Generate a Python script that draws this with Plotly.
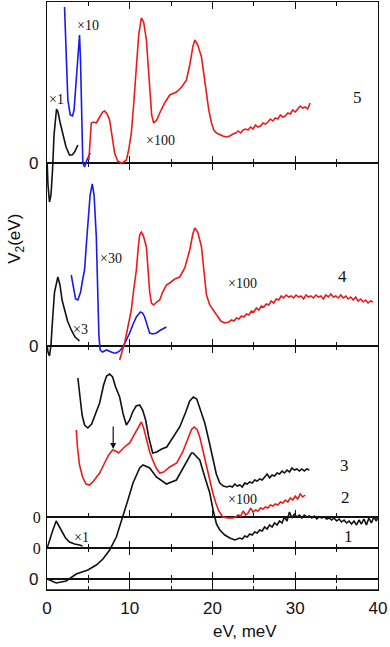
import plotly.graph_objects as go

# energy in meV, V2 in arbitrary units measured from each curve's own zero line

# curve 5
b5_x = [0.02, 0.12, 0.3, 0.48, 0.67, 0.85, 1.15, 1.33, 1.57, 1.91, 2.3, 2.72, 3.03, 3.33, 3.73]
b5_v = [0, -22, -39, -32, -7, 28, 54, 51, 41, 30, 16, 8, 8, 11, 18]
u5_x = [2.12, 2.24, 2.32, 2.52, 2.81, 3.09, 3.27, 3.54, 3.75, 3.93, 4.05, 4.14, 4.24, 4.33, 4.54, 4.82, 5.23]
u5_v = [156, 123, 96, 63, 48, 47, 53, 80, 108, 128, 103, 63, 28, 0, -4, 3, 10]
r5_x = [5.06, 5.21, 5.35, 5.63, 5.96, 6.36, 6.72, 6.96, 7.26, 7.57, 7.87, 8.17, 8.54, 8.98, 9.26,
        9.59, 9.87, 10.19, 10.47, 10.8, 11.08, 11.4, 11.68, 12.01, 12.23, 12.41, 12.65, 12.89, 13.26,
        13.62, 14.22, 14.83, 15.64, 16.28, 16.85, 17.25, 17.62, 17.86, 18.22, 18.67, 18.95, 19.27,
        19.55, 19.88, 20.16, 20.48, 20.88, 21.25, 21.69, 22.09, 22.46,
        22.8, 23.1, 23.4, 23.7, 24.0, 24.3, 24.6, 24.9, 25.2, 25.5, 25.8, 26.1, 26.4, 26.7, 27.0,
        27.3, 27.6, 27.9, 28.2, 28.5, 28.8, 29.1, 29.4, 29.7, 30.0, 30.3, 30.6, 30.9, 31.2, 31.5, 31.8]
r5_v = [3, 23, 40, 41, 40, 46, 51, 52, 49, 43, 28, 10, 2, 0, 1,
        3, 13, 30, 58, 96, 128, 145, 141, 123, 93, 70, 48, 40, 43,
        50, 60, 68, 71, 76, 83, 98, 116, 123, 118, 106, 88, 70,
        53, 40, 33, 30, 28, 27, 26, 27, 29,
        30, 32, 30, 33, 34, 33, 36, 34, 38, 36, 37, 40, 39, 41, 44,
        42, 45, 44, 48, 46, 47, 50, 49, 53, 51, 54, 57, 55, 56, 54, 60]

# curve 4
b4_x = [0.02, 0.12, 0.3, 0.48, 0.67, 0.91, 1.31, 1.57, 1.82, 2.12, 2.48, 2.93, 3.39, 3.93]
b4_v = [0, -6, -10, 1, 26, 54, 69, 61, 46, 36, 25, 16, 9, 5]
u4_x = [2.93, 3.21, 3.45, 3.73, 4.06, 4.3, 4.54, 4.75, 4.94, 5.21, 5.47, 5.69, 5.96, 6.05, 6.15,
        6.27, 6.42, 6.72, 7.17, 7.45, 7.77, 8.05, 8.38, 8.78, 9.18, 9.62, 9.99, 10.41, 10.8,
        11.28, 11.56, 11.8, 12.11, 12.41, 12.77, 13.22, 13.74, 14.43]
u4_v = [71, 56, 47, 46, 54, 66, 76, 101, 126, 151, 162, 151, 109, 76, 43,
        11, -4, -6, -4, -5, -6, -7, -7, -5, -1, 6, 13, 22, 29,
        34, 33, 29, 20, 13, 12, 13, 16, 19]
r4_x = [8.78, 9.08, 9.38, 9.75, 10.19, 10.47, 10.8, 11.02, 11.2, 11.4, 11.62, 12.01, 12.23, 12.41,
        12.62, 12.89, 13.26, 13.62, 13.98, 14.43, 14.83, 15.44, 16.04, 16.65, 17.25, 17.62, 17.86,
        18.22, 18.67, 18.95, 19.27, 19.67, 20.07, 20.52, 21.0, 21.49, 21.97,
        22.3, 22.6, 22.9, 23.2, 23.5, 23.8, 24.1, 24.4, 24.7, 25.0, 25.3, 25.6, 25.9, 26.2, 26.5,
        26.8, 27.1, 27.4, 27.7, 28.0, 28.3, 28.6, 28.9, 29.2, 29.5, 29.8, 30.1, 30.4, 30.7, 31.0,
        31.3, 31.6, 31.9, 32.2, 32.5, 32.8, 33.1, 33.4, 33.7, 34.0, 34.3, 34.6, 34.9, 35.2, 35.5,
        35.8, 36.1, 36.4, 36.7, 37.0, 37.3, 37.6, 37.9, 38.2, 38.5, 38.8, 39.1, 39.4]
r4_v = [-14, -6, 3, 18, 36, 56, 76, 98, 111, 114, 111, 99, 76, 54,
        43, 41, 44, 46, 54, 61, 63, 67, 69, 78, 96, 112, 118,
        114, 99, 76, 51, 41, 36, 30, 25, 23, 24,
        26, 25, 28, 27, 30, 29, 32, 31, 35, 34, 38, 36, 40, 39, 42,
        41, 45, 43, 47, 46, 50, 48, 51, 49, 50, 48, 51, 49, 50, 47,
        51, 49, 50, 48, 51, 49, 50, 47, 51, 49, 52, 49, 50, 48, 51,
        48, 50, 47, 49, 46, 49, 45, 47, 44, 46, 43, 45, 44]

# curve 3
c3_x = [3.73, 3.93, 4.24, 4.54, 4.94, 5.39, 5.87, 6.36, 6.84, 7.2, 7.57, 7.93, 8.29, 8.78, 9.2,
        9.59, 9.99, 10.35, 10.77, 11.2, 11.56, 11.92, 12.29, 12.77, 13.26, 13.86, 14.47, 15.19,
        16.04, 16.77, 17.25, 17.68, 18.1, 18.46, 19.07, 19.55, 20.04, 20.46, 20.88, 21.31, 21.73,
        22.1, 22.4, 22.7, 23.0, 23.3, 23.6, 23.9, 24.2, 24.5, 24.8, 25.1, 25.4, 25.7, 26.0, 26.3,
        26.6, 26.9, 27.2, 27.5, 27.8, 28.1, 28.4, 28.7, 29.0, 29.3, 29.6, 29.9, 30.2, 30.5, 30.8,
        31.1, 31.4, 31.7]
c3_v = [139, 122, 102, 92, 89, 93, 104, 114, 132, 141, 143, 140, 130, 120, 103,
        92, 97, 105, 111, 112, 107, 97, 80, 64, 65, 68, 70, 79,
        90, 105, 116, 120, 118, 109, 94, 77, 57, 43, 34, 31, 30,
        31, 30, 33, 31, 32, 30, 34, 33, 35, 34, 37, 36, 38, 37, 40,
        43, 39, 42, 41, 44, 43, 46, 44, 47, 45, 49, 47, 48, 46, 48,
        46, 48, 47]

# curve 2
c2_x = [3.54, 3.69, 3.93, 4.3, 4.72, 5.15, 5.63, 6.36, 6.96, 7.45, 7.93, 8.29, 8.66, 9.02, 9.5,
        9.99, 10.47, 11.02, 11.4, 11.68, 12.05, 12.41, 12.77, 13.2, 13.62, 14.1, 14.83, 15.68,
        16.4, 17.01, 17.49, 17.8, 18.16, 18.46, 18.89, 19.31, 19.67, 20.04, 20.4, 20.76, 21.25,
        21.85, 22.46, 22.8, 23.1, 23.4, 23.7, 24.0, 24.3, 24.6, 24.9, 25.2, 25.5, 25.8, 26.1,
        26.4, 26.7, 27.0, 27.3, 27.6, 27.9, 28.2, 28.5, 28.8, 29.1, 29.4, 29.7, 30.0, 30.3, 30.6,
        30.9, 31.2]
c2_v = [87, 69, 52, 40, 33, 32, 36, 44, 54, 62, 67, 66, 64, 67, 71,
        74, 81, 90, 95, 89, 77, 65, 57, 49, 44, 45, 50, 54,
        65, 79, 88, 90, 87, 80, 65, 50, 36, 24, 14, 6, 0,
        -1, -1, 0, 2, 1, 6, 2, 4, 9, 5, 7, 6, 9, 8,
        10, 9, 12, 11, 13, 12, 15, 14, 17, 15, 19, 17, 21, 18, 23,
        20, 22]

# curve 1, low energy part (x1) and main part
c1s_x = [0.02, 0.3, 0.67, 1.11, 1.39, 1.76, 2.24, 2.72, 3.33, 3.93, 4.3]
c1s_v = [0, 8, 17, 27, 23, 17, 10, 6, 4, 3, 2]
c1_x = [0.02, 1.11, 2.32, 3.54, 4.94, 5.96, 6.76, 7.57, 8.38, 9.18, 9.78, 10.39, 11.2, 11.6,
        12.41, 13.22, 14.43, 15.64, 16.85, 17.46, 17.65, 18.46, 19.07, 19.67, 20.07, 20.48, 20.88,
        21.49, 22.09, 22.7, 23.3, 23.6, 23.9, 24.2, 24.5, 24.8, 25.1, 25.4, 25.7, 26.0, 26.3, 26.6,
        26.9, 27.2, 27.5, 27.8, 28.1, 28.4, 28.7, 29.0, 29.3, 29.6, 29.9, 30.2, 30.5, 30.8, 31.1,
        31.4, 31.7, 32.0, 32.3, 32.6, 32.9, 33.2, 33.5, 33.8, 34.1, 34.4, 34.7, 35.0, 35.3, 35.6,
        35.9, 36.2, 36.5, 36.8, 37.1, 37.4, 37.7, 38.0, 38.3, 38.6, 38.9, 39.2, 39.5, 39.8, 40.0]
c1_v = [0, -4, -2, 5, 9, 14, 20, 29, 42, 62, 79, 96, 111, 114,
        111, 102, 95, 99, 116, 126, 126, 119, 102, 86, 69, 55, 49,
        44, 41, 39, 41, 40, 43, 42, 45, 44, 47, 46, 49, 48, 52, 50,
        54, 52, 56, 54, 58, 56, 62, 58, 67, 61, 65, 62, 64, 61, 64,
        62, 63, 61, 63, 60, 62, 61, 62, 60, 61, 59, 61, 58, 60, 57,
        59, 56, 58, 55, 58, 54, 59, 55, 60, 54, 61, 56, 62, 58, 63]

# zero line of each curve (same units, counted from the bottom of the frame)
zero5 = 427
zero4 = 244
zero3 = 73
zero1s = 42
zero1 = 11
frame_top = 588

RED = '#ee1a1a'
BLUE = '#1a1aee'
BLACK = '#111111'
SANS = 'Liberation Sans'
SERIF = 'Liberation Serif'

curves = [
    (b5_x, b5_v, zero5, BLACK), (u5_x, u5_v, zero5, BLUE), (r5_x, r5_v, zero5, RED),
    (b4_x, b4_v, zero4, BLACK), (u4_x, u4_v, zero4, BLUE), (r4_x, r4_v, zero4, RED),
    (c3_x, c3_v, zero3, BLACK), (c2_x, c2_v, zero3, RED),
    (c1s_x, c1s_v, zero1s, BLACK), (c1_x, c1_v, zero1, BLACK),
]

fig = go.Figure()

# frame bands between the zero lines
levels = [frame_top, zero5, zero4, zero3, zero1s, zero1, 0]
zero_font = [SANS, SANS, SERIF, SERIF, SANS]
zero_size = [17, 17, 16, 16, 17]
zero_gap = [4, 4, 2, 2, 4]
layout = dict(
    width=390, height=647, autosize=False,
    margin=dict(l=47, r=12, t=2, b=57, autoexpand=False),
    paper_bgcolor='white', plot_bgcolor='rgba(0,0,0,0)',
    showlegend=False,
)
for i in range(6):
    n = '' if i == 0 else str(i + 1)
    top, bot = levels[i], levels[i + 1]
    # zero line of the band (its lower edge)
    fig.add_trace(go.Scatter(x=[0, 40], y=[0, 0], mode='lines',
                             line=dict(color=BLACK, width=1.3),
                             xaxis='x' + n, yaxis='y' + n,
                             showlegend=False, hoverinfo='skip'))
    layout['xaxis' + n] = dict(
        domain=[0, 1], anchor='y' + n, range=[0, 40], automargin=False,
        showline=True, linecolor=BLACK, linewidth=1.3,
        mirror=True if i == 3 else 'ticks',
        ticks='inside', ticklen=7, tickwidth=1.3, tickcolor=BLACK,
        tickvals=[0, 10, 20, 30, 40],
        minor=dict(tickvals=[5, 15, 25, 35], ticks='inside', ticklen=4,
                   tickwidth=1.2, tickcolor=BLACK),
        showticklabels=(i == 5), ticklabelstandoff=2,
        tickfont=dict(family=SANS, size=17, color=BLACK),
        showgrid=False, zeroline=False,
    )
    layout['yaxis' + n] = dict(
        domain=[bot / frame_top, top / frame_top], anchor='x' + n,
        range=[0, top - bot], automargin=False,
        showline=True, linecolor=BLACK, linewidth=1.3, mirror=True,
        ticks='', tickvals=[0], ticktext=['0'],
        showticklabels=(i < 5), ticklabelstandoff=zero_gap[i] if i < 5 else 4,
        tickfont=dict(family=zero_font[i] if i < 5 else SANS,
                      size=zero_size[i] if i < 5 else 17, color=BLACK),
        showgrid=False, zeroline=False,
    )

for xs, vs, z, col in curves:
    fig.add_trace(go.Scatter(x=xs, y=[v + z for v in vs], mode='lines',
                             line=dict(color=col, width=1.6),
                             xaxis='x7', yaxis='y7', showlegend=False, hoverinfo='skip'))

layout['xaxis7'] = dict(domain=[0, 1], anchor='y7', range=[0, 40], visible=False)
layout['yaxis7'] = dict(domain=[0, 1], anchor='x7', range=[0, frame_top], visible=False)
fig.update_layout(**layout)

labels = [
    ('\u00d71', 1.15, 491, 14), ('\u00d710', 4.9, 565, 14), ('\u00d7100', 13.7, 450, 14),
    ('5', 37.5, 493, 17),
    ('\u00d730', 7.75, 332, 14), ('\u00d73', 4.05, 261, 14), ('\u00d7100', 23.6, 307, 14),
    ('4', 35.65, 314, 17),
    ('3', 35.9, 125, 17), ('2', 36.1, 93, 17), ('\u00d7100', 23.6, 91, 14),
    ('1', 36.45, 54, 17), ('\u00d71', 4.2, 53, 14),
]
for t, x, y, s in labels:
    fig.add_annotation(x=x, y=y, xref='x7', yref='y7', text=t, showarrow=False,
                       font=dict(family=SERIF, size=s, color=BLACK))

# arrow at the 8 meV shoulder of curve 2
fig.add_annotation(x=8.0, y=141, ax=8.0, ay=165, xref='x7', yref='y7',
                   axref='x7', ayref='y7', text='', showarrow=True,
                   arrowhead=2, arrowsize=1, arrowwidth=1.2, arrowcolor=BLACK)

fig.add_annotation(x=-0.0925, y=0.598, xref='paper', yref='paper', text='V<sub>2</sub>(eV)',
                   textangle=-90, showarrow=False, xanchor='center', yanchor='middle',
                   font=dict(family=SANS, size=17, color=BLACK))
fig.add_annotation(x=0.5976, y=-0.0714, xref='paper', yref='paper', text='eV, meV',
                   showarrow=False, xanchor='center', yanchor='middle',
                   font=dict(family=SANS, size=17, color=BLACK))

# page body margin off so the figure sits at the window corner
fig.write_html('out.html', config={'displayModeBar': False},
               post_script="document.body.style.margin='0px';")
